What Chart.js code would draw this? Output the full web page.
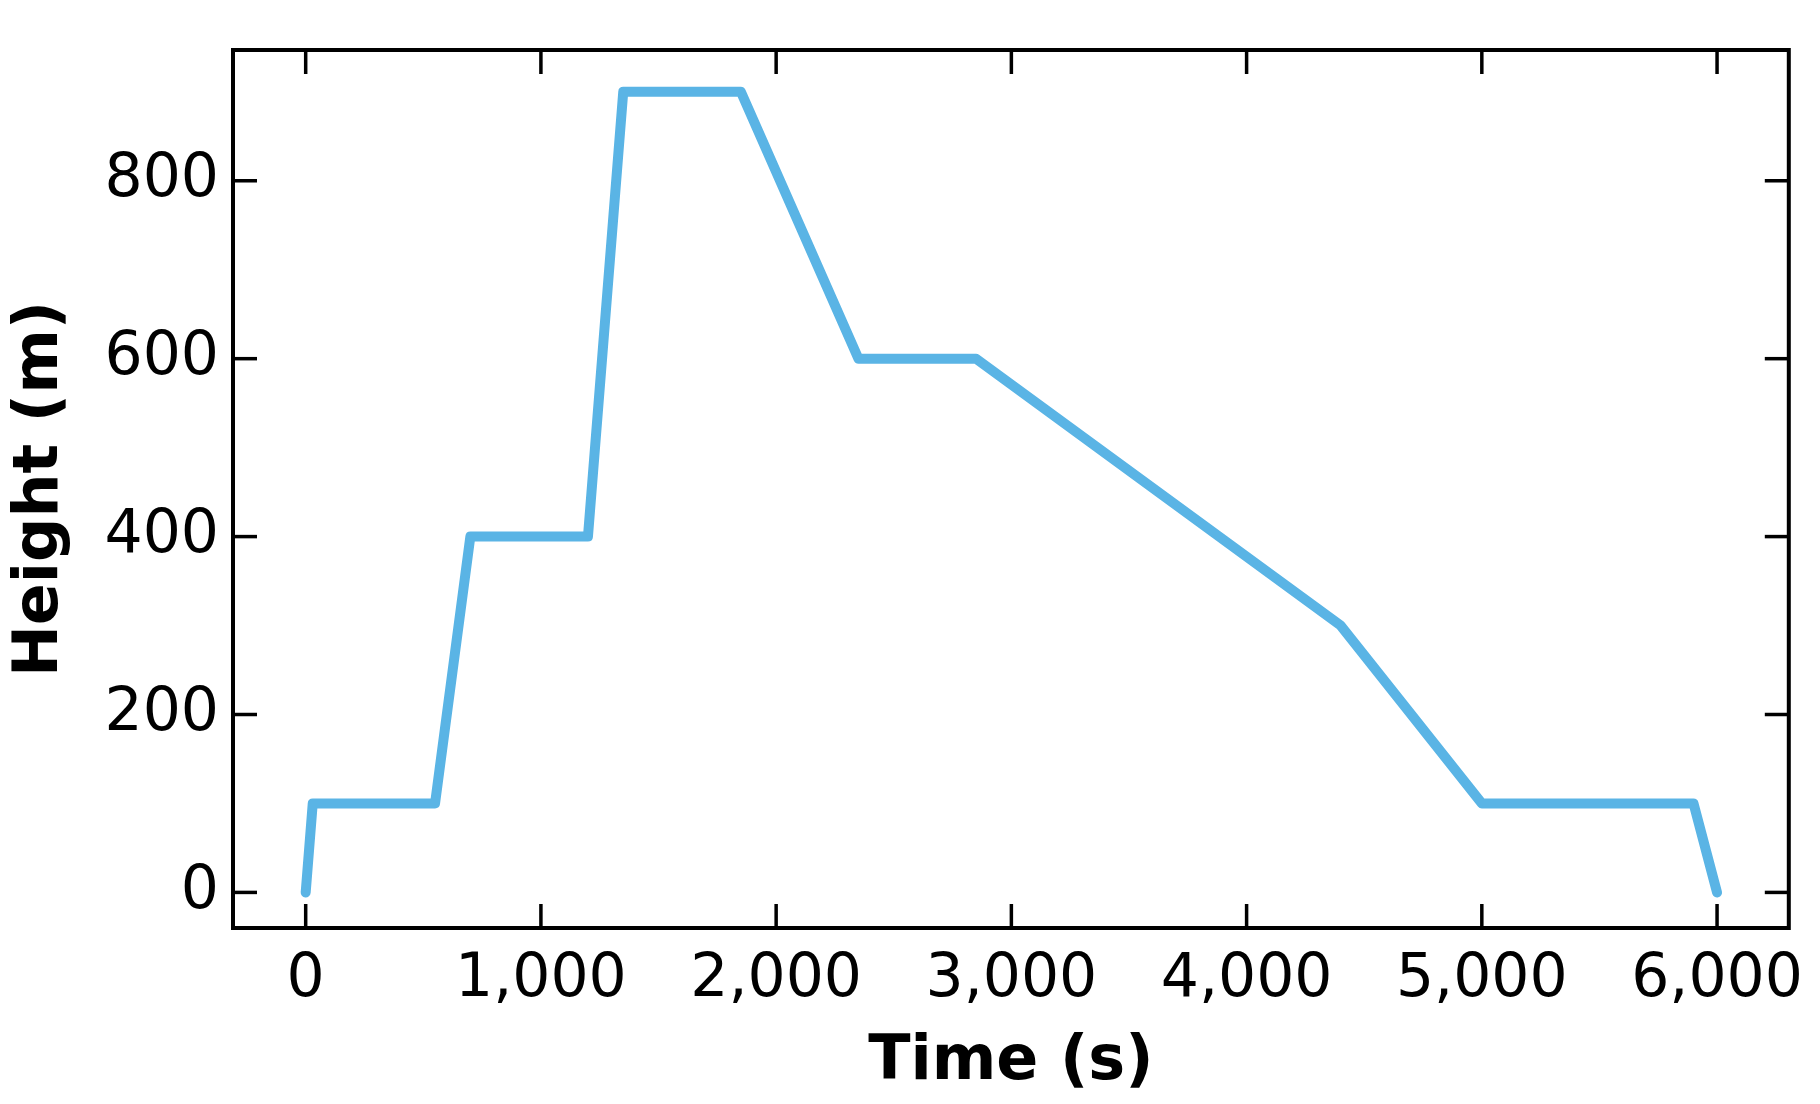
<!DOCTYPE html>
<html><head><meta charset="utf-8">
<script src="https://cdn.jsdelivr.net/npm/chart.js@4"></script>
<style>html,body{margin:0;padding:0;background:#fff}#wrap{width:1820px;height:1104px}</style>
</head><body><div id="wrap"><canvas id="c"></canvas></div>
<script>
var timeS = [0, 30, 550, 700, 1200, 1350, 1850, 2350, 2850, 4400, 5000, 5900, 6000];
var heightM = [0, 100, 100, 400, 400, 900, 900, 600, 600, 300, 100, 100, 0];
var xTicks = [0, 1000, 2000, 3000, 4000, 5000, 6000];
var yTicks = [0, 200, 400, 600, 800];

// frame + inward ticks on all four sides
var framePlugin = {
    id: 'frame',
    afterDraw: function(chart) {
        var ctx = chart.ctx, a = chart.chartArea;
        var xs = chart.scales.x, ys = chart.scales.y;
        ctx.save();
        ctx.strokeStyle = '#000';
        ctx.lineWidth = 3.5;
        xTicks.forEach(function(v) {
            var p = xs.getPixelForValue(v);
            ctx.beginPath(); ctx.moveTo(p, a.bottom); ctx.lineTo(p, a.bottom - 24); ctx.stroke();
            ctx.beginPath(); ctx.moveTo(p, a.top); ctx.lineTo(p, a.top + 24); ctx.stroke();
        });
        yTicks.forEach(function(v) {
            var p = ys.getPixelForValue(v);
            ctx.beginPath(); ctx.moveTo(a.left, p); ctx.lineTo(a.left + 24, p); ctx.stroke();
            ctx.beginPath(); ctx.moveTo(a.right, p); ctx.lineTo(a.right - 24, p); ctx.stroke();
        });
        ctx.lineWidth = 4;
        ctx.strokeRect(a.left, a.top, a.right - a.left, a.bottom - a.top);
        ctx.restore();
    }
};

new Chart(document.getElementById('c'), {
    type: 'line',
    data: {
        datasets: [{
            data: timeS.map(function(t, i) { return {x: t, y: heightM[i]}; }),
            borderColor: '#5ab4e5',
            borderWidth: 10,
            pointRadius: 0,
            borderCapStyle: 'round',
            borderJoinStyle: 'round',
            tension: 0
        }]
    },
    options: {
        animation: false,
        responsive: true,
        maintainAspectRatio: false,
        layout: {padding: {top: 15, right: 23, left: 0, bottom: 0}},
        plugins: {legend: {display: false}, tooltip: {enabled: false}},
        scales: {
            x: {
                type: 'linear', min: -309, max: 6305,
                afterBuildTicks: function(s) { s.ticks = xTicks.map(function(v) { return {value: v}; }); },
                afterFit: function(s) { s.height = 176; },
                grid: {display: false, drawTicks: false},
                border: {display: false},
                ticks: {color: '#000', padding: 16, maxRotation: 0, font: {family: 'DejaVu Sans', size: 60}},
                title: {display: true, text: 'Time (s)', color: '#000', padding: {top: 0}, font: {family: 'DejaVu Sans', size: 62, weight: 'bold'}}
            },
            y: {
                type: 'linear', min: -40, max: 947,
                afterBuildTicks: function(s) { s.ticks = yTicks.map(function(v) { return {value: v}; }); },
                afterFit: function(s) { s.width = 233; },
                grid: {display: false, drawTicks: false},
                border: {display: false},
                ticks: {color: '#000', padding: 14, font: {family: 'DejaVu Sans', size: 60}},
                title: {display: true, text: 'Height (m)', color: '#000', padding: {bottom: 0}, font: {family: 'DejaVu Sans', size: 62, weight: 'bold'}}
            }
        }
    },
    plugins: [framePlugin]
});
</script></body></html>
